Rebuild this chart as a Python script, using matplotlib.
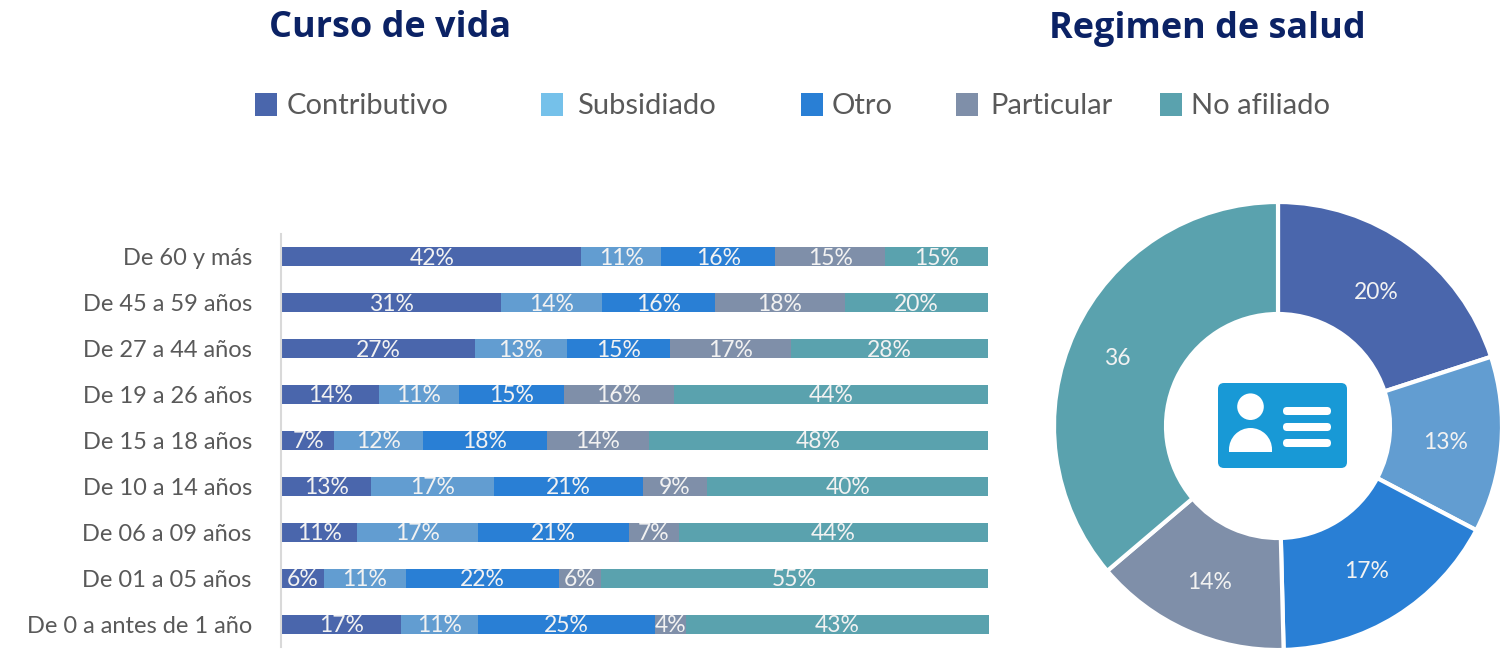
import matplotlib
matplotlib.use("Agg")
import matplotlib.pyplot as plt
from matplotlib.patches import Rectangle, FancyBboxPatch, Circle, Wedge

plt.rcParams['font.family'] = ['Lato', 'DejaVu Sans']

W, H = 1510, 652

categorias = ["De 60 y más", "De 45 a 59 años", "De 27 a 44 años", "De 19 a 26 años",
              "De 15 a 18 años", "De 10 a 14 años", "De 06 a 09 años", "De 01 a 05 años",
              "De 0 a antes de 1 año"]
regimenes = ["Contributivo", "Subsidiado", "Otro", "Particular", "No afiliado"]

contributivo = [42.4, 31.0, 27.3, 13.7, 7.4, 12.6, 10.6, 5.9, 16.9]
subsidiado = [11.3, 14.3, 13.0, 11.3, 12.5, 17.4, 17.1, 11.6, 10.8]
otro = [16.1, 16.0, 14.6, 14.9, 17.6, 21.1, 21.4, 21.7, 25.1]
particular = [15.6, 18.4, 17.1, 15.6, 14.4, 9.1, 7.1, 5.9, 4.4]
no_afiliado = [14.6, 20.3, 28.0, 44.4, 48.1, 39.8, 43.8, 54.8, 42.9]
series = [contributivo, subsidiado, otro, particular, no_afiliado]

etq_contributivo = ["42%", "31%", "27%", "14%", "7%", "13%", "11%", "6%", "17%"]
etq_subsidiado = ["11%", "14%", "13%", "11%", "12%", "17%", "17%", "11%", "11%"]
etq_otro = ["16%", "16%", "15%", "15%", "18%", "21%", "21%", "22%", "25%"]
etq_particular = ["15%", "18%", "17%", "16%", "14%", "9%", "7%", "6%", "4%"]
etq_no_afiliado = ["15%", "20%", "28%", "44%", "48%", "40%", "44%", "55%", "43%"]
etiquetas = [etq_contributivo, etq_subsidiado, etq_otro, etq_particular, etq_no_afiliado]

pie_valores = [20, 12.7, 16.9, 14.2, 36.2]
pie_etiquetas = ["20%", "13%", "17%", "14%", "36"]

colores = ["#4A66AC", "#629DD1", "#297FD5", "#7F8FA9", "#5AA2AE"]
colores_leyenda = ["#4A66AC", "#75C1EA", "#297FD5", "#7F8FA9", "#5AA2AE"]
gris = "#595959"
azul_titulo = "#0B2265"
azul_icono = "#1899D6"


def caja(x0, y0, x1, y1):
    # pixeles (origen arriba) a fraccion de figura
    return [x0 / W, 1 - y1 / H, (x1 - x0) / W, (y1 - y0) / H]


fig = plt.figure(figsize=(W / 100, H / 100), dpi=100)

# capa en pixeles para titulos, leyenda e icono
capa = fig.add_axes([0, 0, 1, 1], zorder=3)
capa.set_xlim(0, W)
capa.set_ylim(H, 0)
capa.axis("off")
capa.patch.set_alpha(0)

# barras
ax = fig.add_axes(caja(282, 234, 989, 647))
# set_position reinicia los ticks, va antes de configurarlos
ax.spines["left"].set_position(("outward", 1))
ax.spines["left"].set_color("#D9D9D9")
ax.spines["left"].set_linewidth(1.5)
for lado in ["top", "right", "bottom"]:
    ax.spines[lado].set_visible(False)
y = list(range(len(categorias)))
izq = [0] * len(categorias)
for serie, color, etq in zip(series, colores, etiquetas):
    ax.barh(y, serie, left=izq, height=0.415, color=color, linewidth=0)
    for i, v in enumerate(serie):
        ax.text(izq[i] + v / 2, i + 0.03, etq[i], ha="center", va="center", color="#F2F2F2", fontsize=16.5)
    izq = [a + b for a, b in zip(izq, serie)]
ax.set_xlim(0, max(izq))
ax.set_ylim(len(categorias) - 0.5, -0.5)
ax.set_yticks(y)
ax.set_yticklabels(categorias, fontsize=17, color=gris, va="center_baseline")
ax.tick_params(axis="y", length=0, pad=20.7)
ax.xaxis.set_visible(False)

# dona
ax2 = fig.add_axes(caja(1054, 202, 1502, 650))
cunas, textos = ax2.pie(pie_valores, colors=colores, startangle=90, counterclock=False,
                        labels=pie_etiquetas, labeldistance=0.75, radius=1,
                        wedgeprops=dict(width=0.5, edgecolor="white", linewidth=3),
                        textprops=dict(color="#F2F2F2", fontsize=16.5))
for t in textos:
    t.set_ha("center")
    t.set_va("center")
    t.set_y(t.get_position()[1] - 0.012)
textos[4].set_x(textos[4].get_position()[0] - 0.035)
ax2.set_xlim(-1, 1)
ax2.set_ylim(-1, 1)

# titulos
capa.text(390, 28, "Curso de vida", ha="center", va="center", fontsize=25.9,
          family="Open Sans", fontweight="bold", color=azul_titulo)
capa.text(1207, 29, "Regimen de salud", ha="center", va="center", fontsize=25.9,
          family="Open Sans", fontweight="bold", color=azul_titulo)

# leyenda
x_cuadro = [255, 541, 801, 956, 1160]
x_texto = [287, 577, 832, 990, 1191]
for nombre, color, xc, xt in zip(regimenes, colores_leyenda, x_cuadro, x_texto):
    capa.add_patch(Rectangle((xc, 93), 22, 23, color=color, linewidth=0))
    capa.text(xt, 106, nombre, ha="left", va="center", fontsize=21, color=gris)

# icono del carne
capa.add_patch(FancyBboxPatch((1224, 389), 117, 73, boxstyle="round,pad=6,rounding_size=6",
                              facecolor=azul_icono, edgecolor="none"))
capa.add_patch(Circle((1250.5, 406.7), 13.3, color="white", linewidth=0))
capa.add_patch(Wedge((1250.5, 449.5), 21.5, 180, 360, color="white", linewidth=0))
capa.add_patch(Rectangle((1229, 449), 43, 3, color="white", linewidth=0))
for yl in [411, 427, 443]:
    capa.add_patch(FancyBboxPatch((1287, yl - 0.01), 40, 0.02, boxstyle="round,pad=4,rounding_size=4",
                                  facecolor="white", edgecolor="none"))

fig.savefig("out.png", dpi=100)
